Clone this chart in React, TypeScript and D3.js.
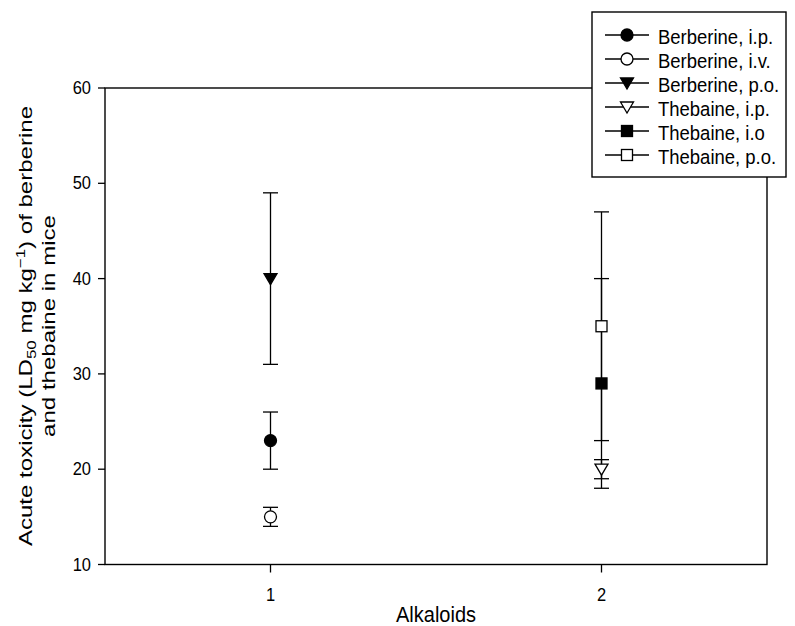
import React from 'react';
import * as d3 from 'd3';

const categories = [1, 2];
const seriesNames = ['Berberine, i.p.', 'Berberine, i.v.', 'Berberine, p.o.', 'Thebaine, i.p.', 'Thebaine, i.o', 'Thebaine, p.o.'];
const seriesCategory = [1, 1, 1, 2, 2, 2];
const seriesMean = [23, 15, 40, 20, 29, 35];
const seriesLow = [20, 14, 31, 19, 18, 23];
const seriesHigh = [26, 16, 49, 21, 40, 47];
const seriesShape = ['circle', 'circle', 'triangle', 'triangle', 'square', 'square'];
const seriesFilled = [true, false, true, false, true, false];
const yTicks = [10, 20, 30, 40, 50, 60];

const W = 795, H = 626;
const L = 105, R = 767, T = 88, B = 564.5;
const FONT = '"Liberation Sans", Arial, Helvetica, sans-serif';

function Marker({ shape, filled, x, y }: { shape: string; filled: boolean; x: number; y: number }) {
  const fill = filled ? '#000' : '#fff';
  if (shape === 'circle') return <circle cx={x} cy={y} r={6} fill={fill} stroke="#000" strokeWidth={1.3} />;
  if (shape === 'square') return <rect x={x - 5.5} y={y - 5.5} width={11} height={11} fill={fill} stroke="#000" strokeWidth={1.3} />;
  const p = d3.path();
  p.moveTo(x - 6.5, y - 5);
  p.lineTo(x + 6.5, y - 5);
  p.lineTo(x, y + 6);
  p.closePath();
  return <path d={p.toString()} fill={fill} stroke="#000" strokeWidth={1.3} />;
}

function SText({ x, y, size, anchor, children, rotate, sy = 1.1 }: any) {
  const tr = rotate ? `translate(${x},${y}) scale(1,${sy}) rotate(-90)` : `translate(${x},${y}) scale(1,${sy})`;
  return (
    <text transform={tr} fontSize={size} fontFamily={FONT} textAnchor={anchor || 'start'} fill="#000">
      {children}
    </text>
  );
}

export default function App() {
  const x = d3.scaleLinear().domain([0.5, 2.5]).range([L, R]);
  const y = d3.scaleLinear().domain([10, 60]).range([B, T]);
  const cap = 7.5;
  const legX = 592, legY = 12, legW = 194, legH = 165;
  const rowY = (i: number) => legY + 23 + i * 24;

  return (
    <svg width={W} height={H} style={{ position: 'absolute', left: 0, top: 0, background: '#fff' }}>
      <rect x={0} y={0} width={W} height={H} fill="#fff" />
      {/* frame */}
      <rect x={L} y={T} width={R - L} height={B - T} fill="none" stroke="#000" strokeWidth={1.4} />
      {/* y ticks */}
      {yTicks.map((t) => (
        <g key={t}>
          <line x1={L - 7} x2={L} y1={y(t)} y2={y(t)} stroke="#000" strokeWidth={1.3} />
          <SText x={L - 14} y={y(t) + 6} size={16.5} anchor="end" sy={1.12}>{t}</SText>
        </g>
      ))}
      {/* x ticks */}
      {categories.map((c) => (
        <g key={c}>
          <line x1={x(c)} x2={x(c)} y1={B} y2={B + 8} stroke="#000" strokeWidth={1.3} />
          <SText x={x(c)} y={B + 36} size={16.5} anchor="middle" sy={1.12}>{c}</SText>
        </g>
      ))}
      <SText x={(L + R) / 2} y={B + 57} size={20} anchor="middle" sy={1.08}>Alkaloids</SText>
      {/* y label */}
      <SText x={32} y={326} size={18.5} anchor="middle" rotate sy={1.3}>
        Acute toxicity (LD<tspan fontSize={13} dy={4}>50</tspan>
        <tspan dy={-4}> mg kg</tspan>
        <tspan fontSize={13} dy={-7}>−1</tspan>
        <tspan dy={7}>) of berberine</tspan>
      </SText>
      <SText x={55} y={326} size={18.5} anchor="middle" rotate sy={1.3}>and thebaine in mice</SText>
      {/* error bars */}
      {seriesNames.map((n, i) => {
        const cx = x(seriesCategory[i]);
        return (
          <g key={'e' + n}>
            <line x1={cx} x2={cx} y1={y(seriesLow[i])} y2={y(seriesHigh[i])} stroke="#000" strokeWidth={1.3} />
            <line x1={cx - cap} x2={cx + cap} y1={y(seriesLow[i])} y2={y(seriesLow[i])} stroke="#000" strokeWidth={1.3} />
            <line x1={cx - cap} x2={cx + cap} y1={y(seriesHigh[i])} y2={y(seriesHigh[i])} stroke="#000" strokeWidth={1.3} />
          </g>
        );
      })}
      {seriesNames.map((n, i) => (
        <Marker key={'m' + n} shape={seriesShape[i]} filled={seriesFilled[i]} x={x(seriesCategory[i])} y={y(seriesMean[i])} />
      ))}
      {/* legend */}
      <rect x={legX} y={legY} width={legW} height={legH} fill="#fff" stroke="#000" strokeWidth={1.4} />
      {seriesNames.map((n, i) => (
        <g key={'l' + n}>
          <line x1={605} x2={649} y1={rowY(i)} y2={rowY(i)} stroke="#000" strokeWidth={1.3} />
          <Marker shape={seriesShape[i]} filled={seriesFilled[i]} x={627} y={rowY(i)} />
          <SText x={658} y={rowY(i) + 8.5} size={18.5} sy={1.13}>{n}</SText>
        </g>
      ))}
    </svg>
  );
}
